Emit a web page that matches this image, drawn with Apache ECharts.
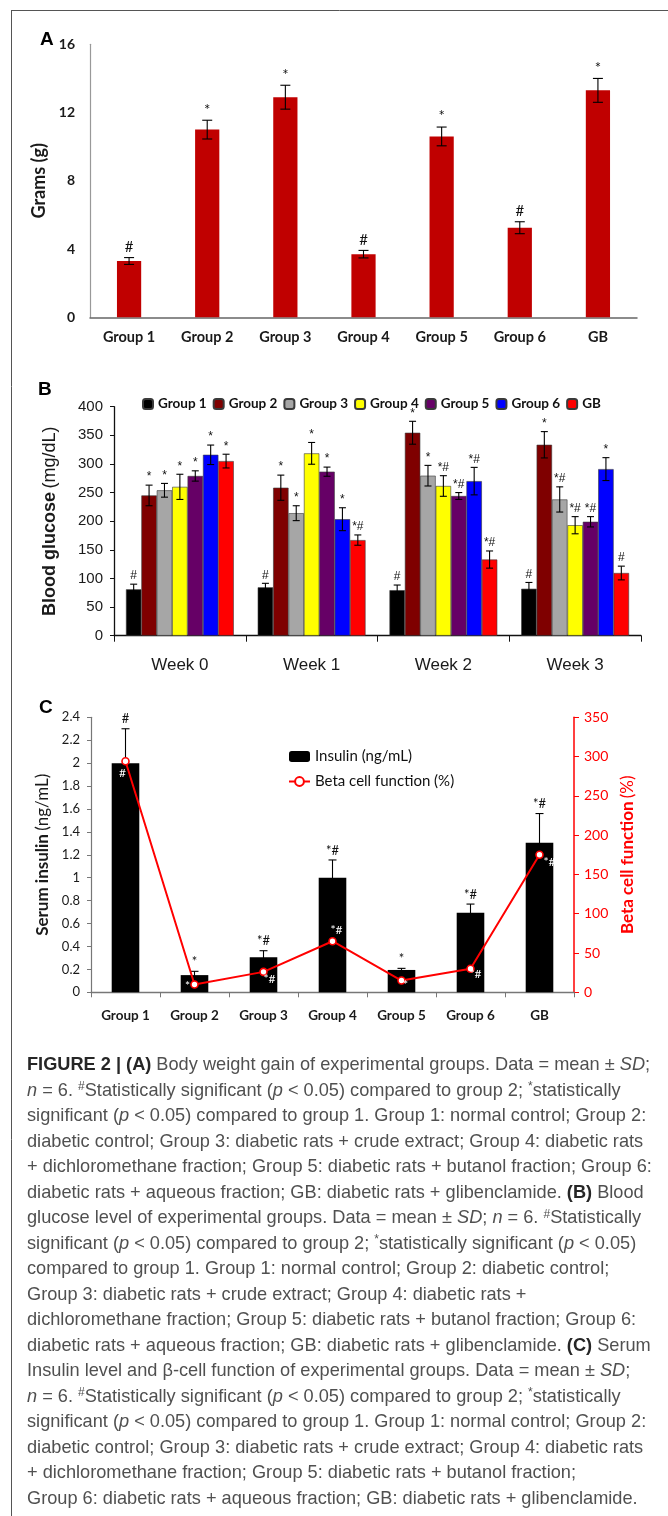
<!DOCTYPE html>
<html>
<head>
<meta charset="utf-8">
<script src="https://cdn.jsdelivr.net/npm/echarts@6/dist/echarts.min.js"></script>
<style>
html, body { margin: 0; padding: 0; background: #fff; }
#chart { width: 668px; height: 1516px; }
</style>
</head>
<body>
<div id="chart"></div>
<script>
// ---- panel A: body weight gain ----
var groups = ['Group 1', 'Group 2', 'Group 3', 'Group 4', 'Group 5', 'Group 6', 'GB'];
var weightGain = [3.3, 11.0, 12.9, 3.7, 10.6, 5.25, 13.3];
var weightSd = [0.2, 0.55, 0.7, 0.22, 0.55, 0.35, 0.7];
var weightMarks = ['#', '*', '*', '#', '*', '#', '*'];

// ---- panel B: blood glucose, one row per group, one column per week ----
var weeks = ['Week 0', 'Week 1', 'Week 2', 'Week 3'];
var glucoseMean = [
  [81, 84.5, 79.5, 82],
  [245, 258.5, 354.5, 333.5],
  [254, 214, 279.5, 238],
  [260, 318.5, 261.5, 193],
  [279, 286.5, 244, 199],
  [316, 203.5, 270, 291],
  [305, 167, 133, 109.5]
];
var glucoseSd = [
  [9, 7, 9, 11],
  [18, 22, 20, 23],
  [12, 13, 18, 22],
  [22, 19, 18, 15],
  [9, 8, 6, 9],
  [17, 20, 24, 20],
  [12, 9, 15, 12]
];
var glucoseMarks = [
  ['#', '#', '#', '#'],
  ['*', '*', '*', '*'],
  ['*', '*', '*', '*#'],
  ['*', '*', '*#', '*#'],
  ['*', '*', '*#', '*#'],
  ['*', '*', '*#', '*'],
  ['*', '*#', '*#', '#']
];
var glucoseColors = ['#000000', '#7f0000', '#a6a6a6', '#ffff00', '#660066', '#0000ff', '#ff0000'];

// ---- panel C: insulin and beta cell function ----
var insulin = [2.0, 0.15, 0.305, 1.0, 0.195, 0.695, 1.305];
var insulinSd = [0.3, 0.033, 0.058, 0.155, 0.014, 0.075, 0.255];
var insulinMarks = ['#', '*', '*#', '*#', '*', '*#', '*#'];
var betaCell = [294, 10, 26, 65, 15, 30, 175];
var betaMarks = ['#', '*', '*#', '*#', '*', '*#', '*#'];
// where the white marks sit relative to each beta point (px)
var betaMarkShift = [[-3, 12], [-7, 2], [6, 7], [4, -11], [4, 5], [5, 5], [10, 7]];

var caption = [
  '{b|FIGURE 2 | (A)} Body weight gain of experimental groups. Data = mean ± {i|SD};',
  '{i|n} = 6. {s|#}Statistically significant ({i|p} < 0.05) compared to group 2; {s|*}statistically',
  'significant ({i|p} < 0.05) compared to group 1. Group 1: normal control; Group 2:',
  'diabetic control; Group 3: diabetic rats + crude extract; Group 4: diabetic rats',
  '+ dichloromethane fraction; Group 5: diabetic rats + butanol fraction; Group 6:',
  'diabetic rats + aqueous fraction; GB: diabetic rats + glibenclamide. {b|(B)} Blood',
  'glucose level of experimental groups. Data = mean ± {i|SD}; {i|n} = 6. {s|#}Statistically',
  'significant ({i|p} < 0.05) compared to group 2; {s|*}statistically significant ({i|p} < 0.05)',
  'compared to group 1. Group 1: normal control; Group 2: diabetic control;',
  'Group 3: diabetic rats + crude extract; Group 4: diabetic rats +',
  'dichloromethane fraction; Group 5: diabetic rats + butanol fraction; Group 6:',
  'diabetic rats + aqueous fraction; GB: diabetic rats + glibenclamide. {b|(C)} Serum',
  'Insulin level and β-cell function of experimental groups. Data = mean ± {i|SD};',
  '{i|n} = 6. {s|#}Statistically significant ({i|p} < 0.05) compared to group 2; {s|*}statistically',
  'significant ({i|p} < 0.05) compared to group 1. Group 1: normal control; Group 2:',
  'diabetic control; Group 3: diabetic rats + crude extract; Group 4: diabetic rats',
  '+ dichloromethane fraction; Group 5: diabetic rats + butanol fraction;',
  'Group 6: diabetic rats + aqueous fraction; GB: diabetic rats + glibenclamide.'
];

var CAL = 'Lato, "Open Sans", sans-serif';
var ARI = '"Liberation Sans", Arial, sans-serif';
var barWidthB = 15.4;

// error bar with a mark above it; offset shifts it onto a bar of a group
function errorBar(marks, offset, cap, font, gap) {
  return function (params, api) {
    var cat = api.value(0), mean = api.value(1), sd = api.value(2);
    var top = api.coord([cat, mean + sd]);
    var bot = api.coord([cat, mean - sd]);
    var x = top[0] + offset;
    var st = { stroke: '#000', lineWidth: 1.1 };
    var kids = [
      { type: 'line', shape: { x1: x, y1: top[1], x2: x, y2: bot[1] }, style: st },
      { type: 'line', shape: { x1: x - cap, y1: top[1], x2: x + cap, y2: top[1] }, style: st },
      { type: 'line', shape: { x1: x - cap, y1: bot[1], x2: x + cap, y2: bot[1] }, style: st }
    ];
    var m = marks[params.dataIndex];
    if (m) {
      kids.push({ type: 'text', x: x, y: top[1] - gap,
        style: { text: m, align: 'center', verticalAlign: 'bottom', font: font, fill: '#111' } });
    }
    return { type: 'group', children: kids };
  };
}

var chart = echarts.init(document.getElementById('chart'));

var series = [];

// A
series.push({
  type: 'bar', name: 'Weight gain', xAxisIndex: 0, yAxisIndex: 0,
  data: weightGain, barWidth: '31%', itemStyle: { color: '#c00000' }
});
series.push({
  type: 'custom', name: 'errA', xAxisIndex: 0, yAxisIndex: 0, z: 5,
  data: weightGain.map(function (v, i) { return [i, v, weightSd[i]]; }),
  encode: { x: 0, y: 1 },
  renderItem: errorBar(weightMarks, 0, 5, 'normal 15px ' + CAL, 3)
});

// B
glucoseMean.forEach(function (row, k) {
  series.push({
    type: 'bar', name: groups[k], xAxisIndex: 1, yAxisIndex: 1,
    data: row, barWidth: barWidthB, barGap: '0%',
    itemStyle: { color: glucoseColors[k], borderColor: '#3a3a3a', borderWidth: 0.6 }
  });
});
glucoseMean.forEach(function (row, k) {
  series.push({
    type: 'custom', name: 'errB' + k, xAxisIndex: 1, yAxisIndex: 1, z: 5,
    data: row.map(function (v, w) { return [w, v, glucoseSd[k][w]]; }),
    encode: { x: 0, y: 1 },
    renderItem: errorBar(glucoseMarks[k], (k - 3) * barWidthB, 3.5, 'normal 12px ' + ARI, 2)
  });
});

// C
series.push({
  type: 'bar', name: 'Insulin (ng/mL)', xAxisIndex: 2, yAxisIndex: 2,
  data: insulin, barWidth: '40%', itemStyle: { color: '#000' }
});
series.push({
  type: 'custom', name: 'errC', xAxisIndex: 2, yAxisIndex: 2, z: 5,
  data: insulin.map(function (v, i) { return [i, v, insulinSd[i]]; }),
  encode: { x: 0, y: 1 },
  renderItem: errorBar(insulinMarks, 0, 4, 'normal 13px ' + CAL, 3)
});
series.push({
  type: 'line', name: 'Beta cell function (%)', xAxisIndex: 2, yAxisIndex: 3, z: 6,
  data: betaCell, symbol: 'circle', symbolSize: 7,
  lineStyle: { color: '#ff0000', width: 2 },
  itemStyle: { color: '#ffffff', borderColor: '#ff0000', borderWidth: 1.6 }
});
series.push({
  type: 'custom', name: 'betaMarks', xAxisIndex: 2, yAxisIndex: 3, z: 7,
  data: betaCell.map(function (v, i) { return [i, v]; }),
  encode: { x: 0, y: 1 },
  renderItem: function (params, api) {
    var p = api.coord([api.value(0), api.value(1)]);
    var s = betaMarkShift[params.dataIndex];
    return { type: 'text', x: p[0] + s[0], y: p[1] + s[1],
      style: { text: betaMarks[params.dataIndex], align: 'center', verticalAlign: 'middle',
        font: 'normal 12px ' + CAL, fill: '#fff' } };
  }
});

// caption lines and frame
var graphics = [
  { type: 'line', shape: { x1: 11, y1: 10.5, x2: 668, y2: 10.5 }, style: { stroke: '#555', lineWidth: 1 } },
  { type: 'line', shape: { x1: 11.5, y1: 10, x2: 11.5, y2: 1516 }, style: { stroke: '#555', lineWidth: 1 } },
  { type: 'text', left: 40, top: 30, style: { text: 'A', font: 'bold 19px ' + ARI, fill: '#000' } },
  { type: 'text', left: 38, top: 380, style: { text: 'B', font: 'bold 19px ' + ARI, fill: '#000' } },
  { type: 'text', left: 39, top: 698, style: { text: 'C', font: 'bold 19px ' + ARI, fill: '#000' } }
];
caption.forEach(function (line, i) {
  graphics.push({
    type: 'text', x: 27, y: 1065 + i * 25.5,
    style: {
      text: line, fontFamily: ARI, fontSize: 18.2, fill: '#505050', verticalAlign: 'middle',
      rich: {
        b: { fontWeight: 'bold', fontSize: 18.2, fontFamily: ARI, fill: '#262626' },
        i: { fontStyle: 'italic', fontSize: 18.2, fontFamily: ARI },
        s: { fontSize: 12, fontFamily: ARI, verticalAlign: 'top', padding: [0, 0, 7, 0] }
      }
    }
  });
});

var option = {
  animation: false,
  backgroundColor: '#fff',
  grid: [
    { left: 90, right: 31, top: 44.3, height: 273 },
    { left: 114, right: 27, top: 406.7, height: 229 },
    { left: 91, right: 94, top: 717.3, height: 275 }
  ],
  legend: [
    {
      data: groups, left: 142, top: 397, padding: 0, itemWidth: 10, itemHeight: 10, itemGap: 6,
      textStyle: { fontFamily: CAL, fontWeight: 'bold', fontSize: 13.5, color: '#111' },
      selectedMode: false
    },
    {
      data: ['Insulin (ng/mL)', 'Beta cell function (%)'], orient: 'vertical',
      left: 288, top: 749, padding: 0, itemWidth: 21, itemHeight: 11, itemGap: 10,
      textStyle: { fontFamily: CAL, fontSize: 15, color: '#111' },
      selectedMode: false
    }
  ],
  xAxis: [
    {
      gridIndex: 0, type: 'category', data: groups,
      axisLine: { lineStyle: { color: '#666', width: 1.5 } }, axisTick: { show: false },
      axisLabel: { fontFamily: CAL, fontWeight: 'bold', fontSize: 14.5, color: '#1a1a1a', margin: 13 }
    },
    {
      gridIndex: 1, type: 'category', data: weeks,
      axisLine: { lineStyle: { color: '#111', width: 1.3 } },
      axisTick: { show: true, length: 6, lineStyle: { color: '#111' } },
      axisLabel: { fontFamily: ARI, fontSize: 17, color: '#1a1a1a', margin: 21 }
    },
    {
      gridIndex: 2, type: 'category', data: groups,
      axisLine: { lineStyle: { color: '#777', width: 1.3 } },
      axisTick: { show: true, length: 5, lineStyle: { color: '#777' } },
      axisLabel: { fontFamily: CAL, fontWeight: 'bold', fontSize: 13.5, color: '#1a1a1a', margin: 16 }
    }
  ],
  yAxis: [
    {
      gridIndex: 0, type: 'value', min: 0, max: 16, interval: 4,
      axisLine: { show: true, lineStyle: { color: '#999', width: 1.2 } }, axisTick: { show: false },
      splitLine: { show: false },
      axisLabel: { fontFamily: CAL, fontWeight: 'bold', fontSize: 14, color: '#1a1a1a', margin: 15 },
      name: 'Grams (g)', nameLocation: 'middle', nameRotate: 90, nameGap: 32,
      nameTextStyle: { fontFamily: CAL, fontWeight: 'bold', fontSize: 18, color: '#1a1a1a' }
    },
    {
      gridIndex: 1, type: 'value', min: 0, max: 400, interval: 50,
      axisLine: { show: true, lineStyle: { color: '#111', width: 1.3 } },
      axisTick: { show: true, length: 4, lineStyle: { color: '#111' } },
      splitLine: { show: false },
      axisLabel: { fontFamily: ARI, fontSize: 15, color: '#1a1a1a', margin: 11 },
      name: '{b|Blood glucose} {r|(mg/dL)}', nameLocation: 'middle', nameRotate: 90, nameGap: 55,
      nameTextStyle: {
        rich: {
          b: { fontFamily: ARI, fontWeight: 'bold', fontSize: 18, color: '#1a1a1a' },
          r: { fontFamily: ARI, fontSize: 18, color: '#1a1a1a' }
        }
      }
    },
    {
      gridIndex: 2, type: 'value', min: 0, max: 2.4, interval: 0.2,
      axisLine: { show: true, lineStyle: { color: '#777', width: 1.2 } },
      axisTick: { show: true, length: 4, lineStyle: { color: '#777' } },
      splitLine: { show: false },
      axisLabel: { fontFamily: CAL, fontSize: 13, color: '#1a1a1a', margin: 11,
        formatter: function (v) { return String(+v.toFixed(1)); } },
      name: '{b|Serum insulin} {r|(ng/mL)}', nameLocation: 'middle', nameRotate: 90, nameGap: 37,
      nameTextStyle: {
        rich: {
          b: { fontFamily: CAL, fontWeight: 'bold', fontSize: 17, color: '#1a1a1a' },
          r: { fontFamily: CAL, fontSize: 17, color: '#1a1a1a' }
        }
      }
    },
    {
      gridIndex: 2, type: 'value', min: 0, max: 350, interval: 50, position: 'right',
      axisLine: { show: true, lineStyle: { color: '#ff0000', width: 1.5 } },
      axisTick: { show: true, length: 5, lineStyle: { color: '#ff0000' } },
      splitLine: { show: false },
      axisLabel: { fontFamily: CAL, fontSize: 14, color: '#ff0000', margin: 10 },
      name: '{b|Beta cell function} {r|(%)}', nameLocation: 'middle', nameRotate: 90, nameGap: 44,
      nameTextStyle: {
        rich: {
          b: { fontFamily: CAL, fontWeight: 'bold', fontSize: 17, color: '#ff0000' },
          r: { fontFamily: CAL, fontSize: 17, color: '#ff0000' }
        }
      }
    }
  ],
  series: series,
  graphic: graphics
};

chart.setOption(option);
</script>
</body>
</html>
